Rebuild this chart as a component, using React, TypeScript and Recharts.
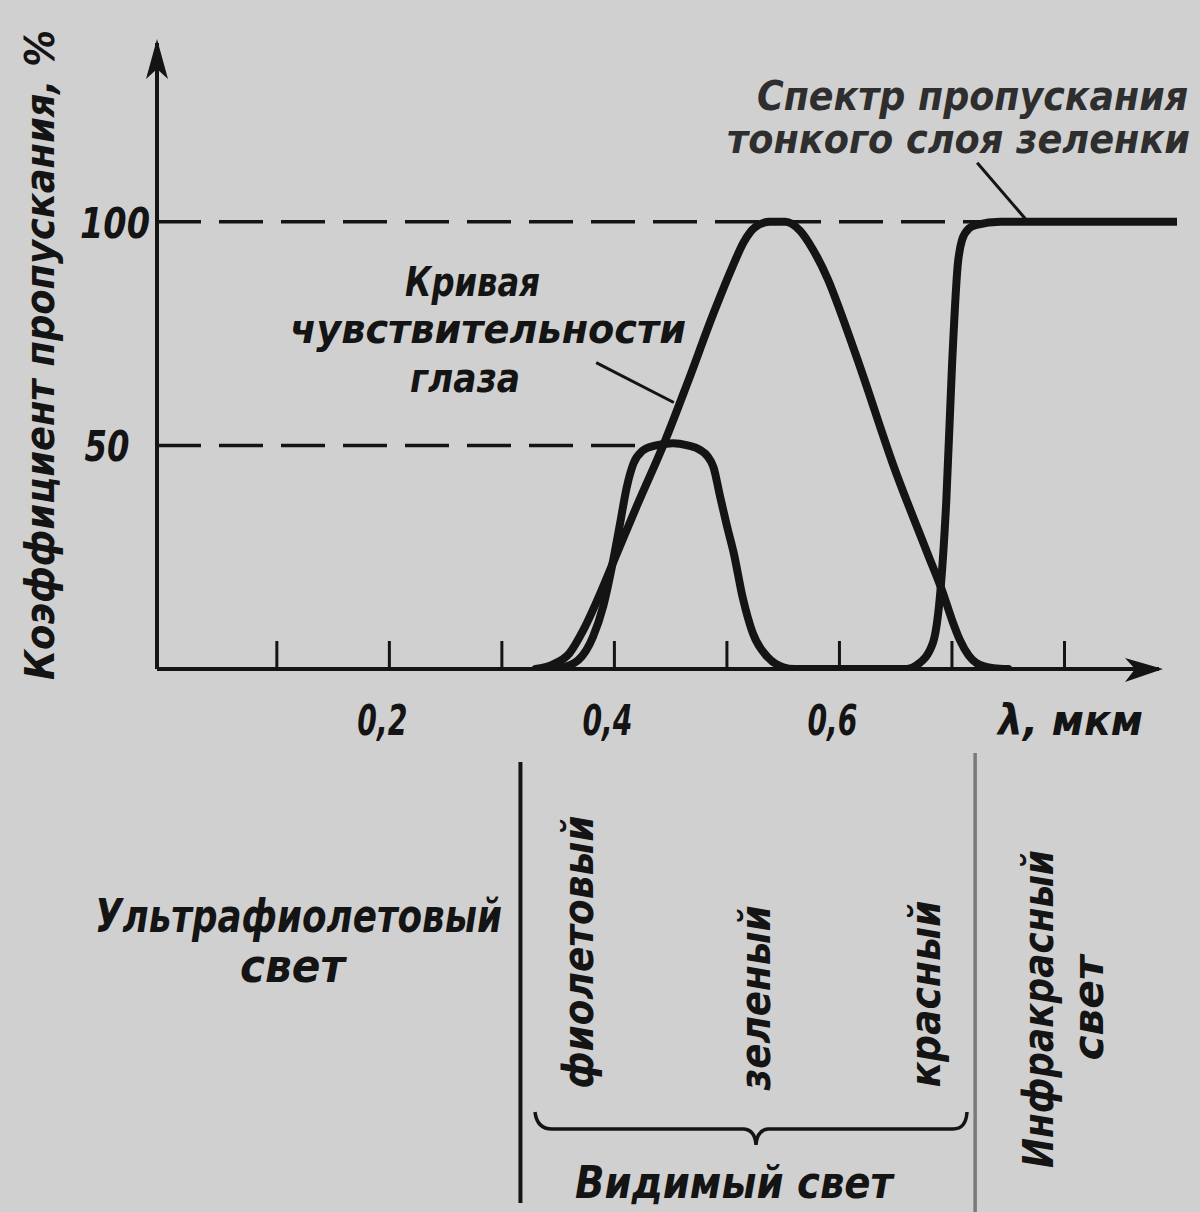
import React from "react";
import {
  LineChart,
  Line,
  XAxis,
  YAxis,
  ReferenceLine,
  ReferenceDot,
} from "recharts";

// wavelength axis (мкм) and transmission (%)
const X_MIN = -0.0065;
const X_MAX = 0.9;
const xTicks = [0.1, 0.2, 0.3, 0.4, 0.5, 0.6, 0.7, 0.8];
const xTickLabels: Record<string, string> = { "0.2": "0,2", "0.4": "0,4", "0.6": "0,6", "0.8": "λ, мкм" };
const yTicks = [50, 100];

// кривая чувствительности глаза
const eyeWavelength = [0.33, 0.345, 0.36, 0.372, 0.385, 0.4, 0.42, 0.445, 0.465, 0.488, 0.505, 0.515, 0.525, 0.538, 0.552, 0.565, 0.576, 0.59, 0.6, 0.618, 0.648, 0.678, 0.692, 0.7, 0.707, 0.715, 0.722, 0.737, 0.75];
const eyeValue = [0, 1, 3.5, 8.5, 15.5, 24.5, 36.5, 51, 64, 79.5, 90, 95.5, 98.8, 100, 100, 98, 94, 87, 80.5, 67.8, 45.5, 26, 17, 11, 6.5, 3, 1.3, 0.2, 0];

// спектр пропускания тонкого слоя зеленки
const greenWavelength = [0.345, 0.352, 0.368, 0.381, 0.39, 0.399, 0.405, 0.411, 0.417, 0.425, 0.435, 0.452, 0.465, 0.476, 0.483, 0.488, 0.494, 0.5, 0.506, 0.514, 0.523, 0.536, 0.55, 0.56, 0.66, 0.669, 0.683, 0.689, 0.695, 0.7, 0.705, 0.709, 0.715, 0.722, 0.743, 0.9];
const greenValue = [0, 0.2, 2, 7.2, 14, 24.4, 32.5, 40.7, 46, 48.8, 49.9, 50.5, 50, 49, 47.5, 45.2, 38.5, 32, 26, 16, 8, 2.7, 0.4, 0, 0, 0.9, 5.8, 15.4, 37.8, 67.6, 90, 96, 98.5, 99.3, 100, 100];

// границы видимого света
const visibleFrom = 0.3165;
const visibleTo = 0.7206;

const eyeData = eyeWavelength.map((x, i) => ({ x, v: eyeValue[i] }));
const greenData = greenWavelength.map((x, i) => ({ x, v: greenValue[i] }));

const FONT = "'Liberation Sans Narrow', 'DejaVu Sans Condensed', sans-serif";
const INK = "#141414";

const Txt = ({ x, y, len, size = 40, rot = false, anchor = "start", color = INK, weight = 700, children }: any) => (
  <text
    x={x}
    y={y}
    fontFamily={FONT}
    fontStyle="italic"
    fontWeight={weight}
    fontSize={size}
    fill={color}
    textLength={len}
    lengthAdjust="spacingAndGlyphs"
    textAnchor={anchor}
    dominantBaseline={rot ? "central" : undefined}
    transform={rot ? `rotate(-90 ${x} ${y})` : undefined}
  >
    {children}
  </text>
);

const XTick = ({ x, y, payload }: any) => {
  const label = xTickLabels[String(payload.value)];
  return (
    <g>
      <line x1={x} x2={x} y1={y - 28} y2={y} stroke={INK} strokeWidth={3} />
      {label && (
        <Txt x={label.length > 3 ? x + 6 : x - 7} y={y + 66} size={42} anchor="middle" len={label.length > 3 ? 145 : 50}>
          {label}
        </Txt>
      )}
    </g>
  );
};

const YTick = ({ x, y, payload }: any) => (
  <Txt x={x - 42 - (payload.value === 50 ? 8 : 0)} y={y + 16} size={42} anchor="middle" len={payload.value === 100 ? 70 : 45}>
    {payload.value}
  </Txt>
);

const UpArrow = ({ cx, cy }: any) => (
  <path d={`M${cx},${cy - 4} L${cx - 11},${cy + 36} L${cx},${cy + 26} L${cx + 11},${cy + 36} Z`} fill={INK} />
);

const RightArrow = ({ cx, cy }: any) => (
  <path d={`M${cx + 4},${cy} L${cx - 34},${cy - 11} L${cx - 24},${cy} L${cx - 34},${cy + 13} Z`} fill={INK} />
);

const Annotations = () => (
  <g>
    <Txt x={40} y={355} rot len={650} size={40} anchor="middle">Коэффициент пропускания, %</Txt>
    <Txt x={757} y={110} len={431} size={40} color="#2e2e2e">Спектр пропускания</Txt>
    <Txt x={727} y={153} len={463} size={40} color="#2e2e2e">тонкого слоя зеленки</Txt>
    <Txt x={405} y={296} len={135} size={40}>Кривая</Txt>
    <Txt x={290} y={343} len={396} size={40}>чувствительности</Txt>
    <Txt x={410} y={392} len={110} size={40}>глаза</Txt>
    <Txt x={95} y={932} len={407} size={46}>Ультрафиолетовый</Txt>
    <Txt x={240} y={982} len={105} size={46}>свет</Txt>
    <Txt x={578} y={952} rot len={273} size={42} anchor="middle">фиолетовый</Txt>
    <Txt x={755} y={998} rot len={185} size={42} anchor="middle">зеленый</Txt>
    <Txt x={925} y={994} rot len={187} size={42} anchor="middle">красный</Txt>
    <Txt x={1038} y={1009} rot len={318} size={42} anchor="middle">Инфракрасный</Txt>
    <Txt x={1088} y={1008} rot len={105} size={42} anchor="middle">свет</Txt>
    <Txt x={575} y={1198} len={318} size={44}>Видимый свет</Txt>
    <path
      d="M535,1112 Q537,1129 552,1129 L744,1129 Q755,1130 756,1145 Q757,1130 768,1129 L953,1129 Q966,1129 967,1112"
      fill="none"
      stroke={INK}
      strokeWidth={3.5}
    />
  </g>
);

export default function App() {
  return (
    <div style={{ position: "absolute", left: 0, top: 0, width: 1200, height: 1212, background: "#d0d0d0" }}>
      <LineChart width={1200} height={1212} margin={{ top: 43, right: 23, bottom: 483, left: 0 }}>
        <XAxis
          type="number"
          dataKey="x"
          domain={[X_MIN, X_MAX]}
          allowDataOverflow
          ticks={xTicks}
          axisLine={false}
          tickLine={false}
          tickSize={0}
          tickMargin={0}
          height={60}
          tick={<XTick />}
          interval={0}
        />
        <YAxis
          type="number"
          domain={[0, 140]}
          allowDataOverflow
          ticks={yTicks}
          width={157}
          axisLine={{ stroke: INK, strokeWidth: 4 }}
          tickLine={false}
          tickSize={0}
          tickMargin={0}
          tick={<YTick />}
          interval={0}
        />
        <ReferenceLine segment={[{ x: X_MIN, y: 0 }, { x: 0.884, y: 0 }]} stroke={INK} strokeWidth={4} ifOverflow="visible" />
        <ReferenceLine segment={[{ x: X_MIN, y: 100 }, { x: 0.74, y: 100 }]} stroke={INK} strokeWidth={3.5} strokeDasharray="44 18" ifOverflow="visible" />
        <ReferenceLine segment={[{ x: X_MIN, y: 50 }, { x: 0.432, y: 50 }]} stroke={INK} strokeWidth={3.5} strokeDasharray="44 18" ifOverflow="visible" />
        <ReferenceLine segment={[{ x: 0.7224, y: 113.2 }, { x: 0.7669, y: 100.2 }]} stroke={INK} strokeWidth={3} ifOverflow="visible" />
        <ReferenceLine segment={[{ x: 0.3838, y: 68.5 }, { x: 0.4528, y: 59.6 }]} stroke={INK} strokeWidth={3} ifOverflow="visible" />
        <ReferenceLine segment={[{ x: visibleFrom, y: -20.8 }, { x: visibleFrom, y: -119.4 }]} stroke={INK} strokeWidth={4} ifOverflow="visible" />
        <ReferenceLine segment={[{ x: visibleTo, y: -18.8 }, { x: visibleTo, y: -122 }]} stroke="#7a7a7a" strokeWidth={3.5} ifOverflow="visible" />
        <ReferenceDot x={X_MIN} y={140} r={0} shape={<UpArrow />} ifOverflow="visible" />
        <ReferenceDot x={0.884} y={0} r={0} shape={<RightArrow />} ifOverflow="visible" />
        <Line data={eyeData} dataKey="v" type="monotone" dot={false} stroke={INK} strokeWidth={8} strokeLinecap="round" isAnimationActive={false} />
        <Line data={greenData} dataKey="v" type="monotone" dot={false} stroke={INK} strokeWidth={8} strokeLinecap="round" isAnimationActive={false} />
        <Annotations />
      </LineChart>
    </div>
  );
}
